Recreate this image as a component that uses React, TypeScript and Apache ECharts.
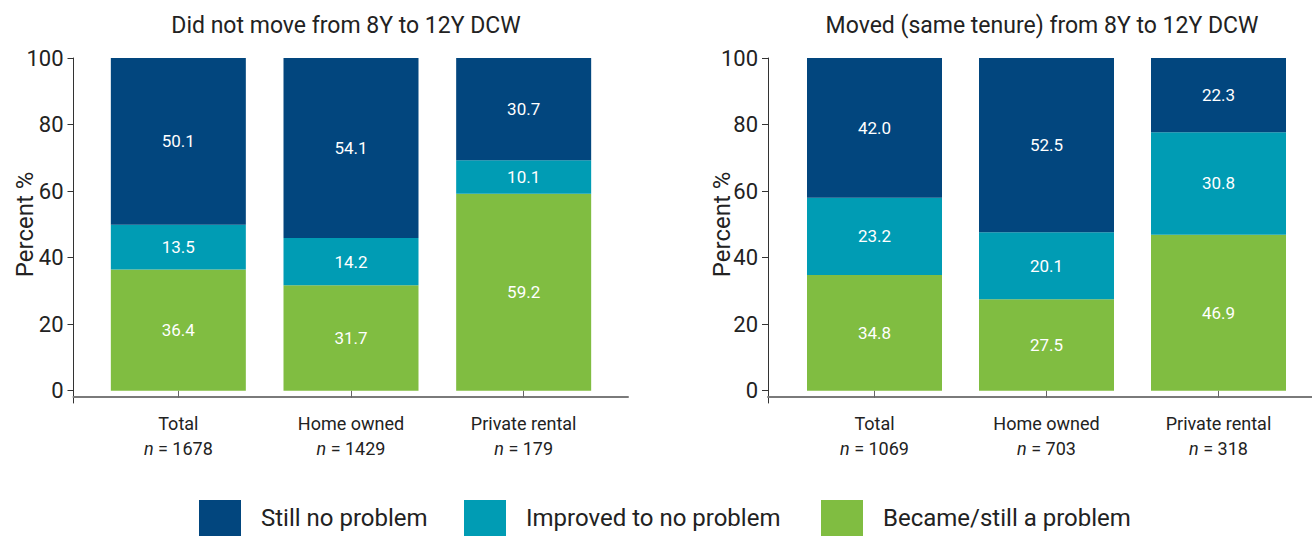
import React, { useEffect, useRef } from "react";
import * as echarts from "echarts";

const categories = ["Total", "Home owned", "Private rental"];
const nLeft = [1678, 1429, 179];
const nRight = [1069, 703, 318];
const leftStill = [50.1, 54.1, 30.7];
const leftImproved = [13.5, 14.2, 10.1];
const leftBecame = [36.4, 31.7, 59.2];
const rightStill = [42.0, 52.5, 22.3];
const rightImproved = [23.2, 20.1, 30.8];
const rightBecame = [34.8, 27.5, 46.9];
const yTicks = [0, 20, 40, 60, 80, 100];
const seriesNames = ["Still no problem", "Improved to no problem", "Became/still a problem"];
const titles = ["Did not move from 8Y to 12Y DCW", "Moved (same tenure) from 8Y to 12Y DCW"];

const NAVY = "#02467e";
const TEAL = "#009cb4";
const GREEN = "#80bd41";
const FONT = "Roboto, 'Noto Sans', sans-serif";
const TXT = "#222222";

export default function App() {
  const ref = useRef<HTMLDivElement>(null);
  useEffect(() => {
    document.body.style.margin = "0";
    const chart = echarts.init(ref.current!, null, { renderer: "svg" });

    const frameY = (gi: number) => ({
      type: "value",
      gridIndex: gi,
      min: -3.7,
      max: 100,
      axisLine: { show: true, lineStyle: { color: "#333", width: 1 } },
      axisTick: { show: true, length: 6, customValues: yTicks, lineStyle: { color: "#333" } },
      axisLabel: { customValues: yTicks, fontSize: 22, color: TXT, fontFamily: FONT, margin: 10 },
      splitLine: { show: false },
    });
    const frameX = (gi: number) => ({
      type: "value",
      gridIndex: gi,
      min: 0,
      max: 1,
      offset: -6,
      axisLine: { show: true, onZero: false, lineStyle: { color: "#7a7a7a", width: 2 } },
      axisTick: { show: false },
      axisLabel: { show: false },
      splitLine: { show: false },
    });
    const barX = (gi: number, ns: number[]) => ({
      type: "category",
      gridIndex: gi,
      data: categories,
      offset: 6,
      axisLine: { show: false },
      axisTick: { show: true, alignWithLabel: true, length: 7, lineStyle: { color: "#666" } },
      axisLabel: {
        margin: 14,
        formatter: (v: string, i: number) => `{a|${v}}\n{i|n}{a| = ${ns[i]}}`,
        rich: {
          a: { fontSize: 18, color: TXT, fontFamily: FONT, lineHeight: 25 },
          i: { fontSize: 18, color: TXT, fontFamily: FONT, fontStyle: "italic", lineHeight: 25 },
        },
      },
    });
    const barY = (gi: number) => ({
      type: "value",
      gridIndex: gi,
      min: 0,
      max: 100,
      show: true,
      name: "Percent %",
      nameLocation: "middle",
      nameGap: 55,
      nameMoveOverlap: false,
      nameTextStyle: { fontSize: 24, color: TXT, fontFamily: FONT },
      axisLine: { show: false },
      axisTick: { show: false },
      axisLabel: { show: false },
      splitLine: { show: false },
    });

    const mk = (name: string, data: number[], color: string, axis: number, stack: string) => ({
      name,
      type: "bar",
      stack,
      xAxisIndex: axis,
      yAxisIndex: axis,
      data,
      barWidth: 135,
      itemStyle: { color },
      label: {
        show: true,
        position: "inside",
        color: "#fff",
        fontSize: 17,
        fontFamily: FONT,
        formatter: (p: any) => Number(p.value).toFixed(1),
      },
    });

    const legendItem = (name: string, left: number) => ({
      left,
      top: 500,
      padding: 0,
      itemWidth: 42,
      itemHeight: 36,
      icon: "rect",
      selectedMode: false,
      data: [name],
      formatter: (n: string) => `{t|${n}}`,
      textStyle: {
        rich: { t: { fontSize: 24, color: TXT, fontFamily: FONT, padding: [0, 0, 0, 15] } },
      },
    });

    chart.setOption({
      animation: false,
      backgroundColor: "#ffffff",
      title: [
        { text: titles[0], left: 341, top: 9, textAlign: "center", textStyle: { fontSize: 23, fontWeight: "normal", color: TXT, fontFamily: FONT } },
        { text: titles[1], left: 1037, top: 9, textAlign: "center", textStyle: { fontSize: 23, fontWeight: "normal", color: TXT, fontFamily: FONT } },
      ],
      legend: [
        legendItem(seriesNames[0], 199),
        legendItem(seriesNames[1], 464),
        legendItem(seriesNames[2], 821),
      ],
      grid: [
        { left: 73.5, top: 58, width: 554.5, height: 345 },
        { left: 92, top: 58, width: 518, height: 332.7 },
        { left: 768, top: 58, width: 560, height: 345 },
        { left: 788.5, top: 58, width: 516, height: 332.7 },
      ],
      xAxis: [frameX(0), barX(1, nLeft), frameX(2), barX(3, nRight)],
      yAxis: [frameY(0), barY(1), frameY(2), barY(3)],
      series: [
        mk(seriesNames[2], leftBecame, GREEN, 1, "L"),
        mk(seriesNames[1], leftImproved, TEAL, 1, "L"),
        mk(seriesNames[0], leftStill, NAVY, 1, "L"),
        mk(seriesNames[2], rightBecame, GREEN, 3, "R"),
        mk(seriesNames[1], rightImproved, TEAL, 3, "R"),
        mk(seriesNames[0], rightStill, NAVY, 3, "R"),
      ],
    });
    return () => chart.dispose();
  }, []);
  return <div ref={ref} style={{ position: "fixed", left: 0, top: 0, width: 1312, height: 536 }} />;
}
